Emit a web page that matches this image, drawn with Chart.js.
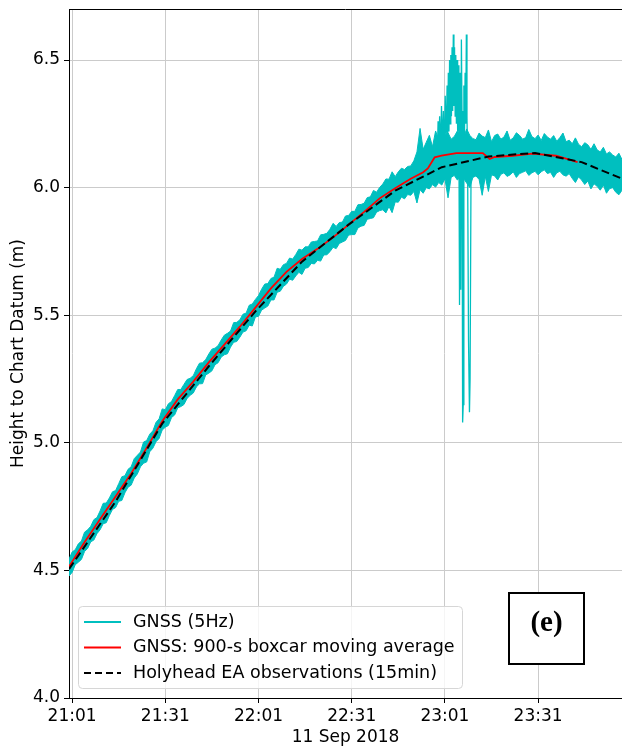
<!DOCTYPE html>
<html>
<head>
<meta charset="utf-8">
<title>Holyhead GNSS tide</title>
<script src="https://cdn.jsdelivr.net/npm/chart.js@4.4.0/dist/chart.umd.min.js"></script>
<style>
  html, body { margin: 0; padding: 0; background: #fff; }
  #wrap { width: 622px; height: 749px; }
</style>
</head>
<body>
<div id="wrap"><canvas id="tide" width="622" height="749"></canvas></div>
<script>
// time axis is minutes after 21:00, 11 Sep 2018
const dayStartHour = 21;

// GNSS 5Hz band, one sample per minute from minute 0 (upper / lower edge, m)
const gnssHigh = [
  4.544, 4.572, 4.581, 4.604, 4.615, 4.650, 4.659, 4.673, 4.699, 4.707,
  4.733, 4.763, 4.764, 4.784, 4.808, 4.813, 4.840, 4.867, 4.871, 4.896,
  4.906, 4.938, 4.951, 4.964, 5.003, 5.009, 5.034, 5.047, 5.080, 5.094,
  5.133, 5.130, 5.153, 5.162, 5.185, 5.209, 5.209, 5.229, 5.248, 5.253,
  5.263, 5.290, 5.312, 5.314, 5.326, 5.348, 5.367, 5.371, 5.381, 5.403,
  5.422, 5.429, 5.438, 5.471, 5.472, 5.482, 5.504, 5.508, 5.539, 5.544,
  5.562, 5.577, 5.602, 5.622, 5.624, 5.644, 5.649, 5.684, 5.680, 5.698,
  5.703, 5.724, 5.720, 5.738, 5.759, 5.755, 5.768, 5.768, 5.787, 5.789,
  5.791, 5.815, 5.817, 5.821, 5.837, 5.860, 5.848, 5.863, 5.865, 5.889,
  5.891, 5.907, 5.907, 5.933, 5.934, 5.939, 5.961, 5.964, 5.989, 5.982,
  6.001, 6.014, 6.034, 6.033, 6.062, 6.043, 6.062, 6.076, 6.071, 6.083,
  6.085, 6.105, 6.140, 6.232, 6.150, 6.178, 6.205, 6.160, 6.222, 6.190,
  6.240, 6.205, 6.215, 6.190, 6.200, 6.222, 6.210, 6.196, 6.230, 6.205,
  6.192, 6.188, 6.214, 6.202, 6.196, 6.226, 6.180, 6.204, 6.210, 6.190,
  6.198, 6.222, 6.186, 6.195, 6.215, 6.205, 6.190, 6.196, 6.228, 6.200,
  6.192, 6.206, 6.185, 6.212, 6.198, 6.190, 6.204, 6.182, 6.196, 6.214,
  6.180, 6.186, 6.172, 6.195, 6.170, 6.160, 6.176, 6.168, 6.150, 6.172,
  6.148, 6.140, 6.158, 6.132, 6.140, 6.128, 6.120, 6.135, 6.110
];
const gnssLow = [
  4.478, 4.492, 4.522, 4.532, 4.543, 4.574, 4.586, 4.612, 4.619, 4.644,
  4.659, 4.683, 4.687, 4.715, 4.739, 4.746, 4.771, 4.774, 4.804, 4.826,
  4.834, 4.862, 4.878, 4.906, 4.920, 4.925, 4.965, 4.979, 5.004, 5.017,
  5.050, 5.061, 5.068, 5.099, 5.109, 5.137, 5.142, 5.150, 5.174, 5.186,
  5.195, 5.219, 5.231, 5.232, 5.266, 5.273, 5.282, 5.306, 5.314, 5.336,
  5.345, 5.349, 5.375, 5.394, 5.397, 5.414, 5.434, 5.439, 5.461, 5.458,
  5.493, 5.496, 5.520, 5.528, 5.536, 5.560, 5.560, 5.590, 5.594, 5.613,
  5.622, 5.641, 5.637, 5.654, 5.668, 5.660, 5.684, 5.687, 5.703, 5.701,
  5.715, 5.712, 5.736, 5.737, 5.749, 5.766, 5.761, 5.781, 5.787, 5.793,
  5.814, 5.816, 5.816, 5.842, 5.849, 5.852, 5.876, 5.879, 5.882, 5.904,
  5.910, 5.913, 5.901, 5.926, 5.902, 5.944, 5.943, 5.963, 5.956, 5.973,
  5.970, 5.985, 5.940, 5.992, 5.978, 6.000, 5.995, 6.012, 6.002, 6.020,
  6.010, 6.035, 5.960, 6.040, 6.048, 6.030, 6.042, 6.036, 6.018, 6.000,
  6.040, 6.046, 6.032, 5.970, 6.044, 5.985, 6.050, 6.046, 6.030, 6.052,
  6.058, 6.044, 6.050, 6.062, 6.040, 6.055, 6.060, 6.066, 6.048, 6.058,
  6.064, 6.050, 6.062, 6.070, 6.055, 6.060, 6.040, 6.058, 6.064, 6.050,
  6.045, 6.055, 6.036, 6.020, 6.042, 6.030, 6.012, 6.026, 5.995, 6.015,
  6.005, 5.990, 6.010, 5.978, 5.996, 6.000, 5.982, 5.972, 5.990
];

// the burst of outliers just after 23:01
const spikeTime = [
  118.6, 118.8, 119.0, 119.3, 119.6, 119.9, 120.2, 120.5, 120.8, 121.1,
  121.4, 121.7, 121.9, 122.1, 122.3, 122.5, 122.7, 122.9, 123.1, 123.3,
  123.5, 123.7, 123.9, 124.1, 124.3, 124.5, 124.7, 124.9, 125.1, 125.3,
  125.5, 125.7, 125.9, 126.1, 126.3, 126.5, 126.7, 126.9, 127.1, 127.3,
  127.5, 127.7, 127.9, 128.1, 128.3, 128.6, 128.9, 129.1, 129.4, 129.7,
  130.0
];
const spikeValue = [
  6.15, 6.26, 6.12, 6.28, 6.14, 6.32, 6.16, 6.30, 6.12, 6.36,
  6.18, 6.40, 6.20, 6.45, 6.22, 6.50, 6.25, 6.52, 6.28, 6.55,
  6.30, 6.60, 6.32, 6.55, 6.28, 6.52, 6.25, 6.50, 6.22, 6.48,
  6.20, 5.54, 6.45, 5.60, 6.58, 6.30, 5.08, 5.15, 6.40, 6.20,
  6.45, 6.25, 6.60, 6.28, 6.10, 5.40, 5.12, 5.25, 6.05, 6.18,
  6.10
];

// 900-s boxcar moving average
const boxcarTime = [
  0, 5, 10, 15, 20, 25, 30, 35, 40, 45, 50, 55, 60, 65, 70, 75, 80, 85, 90, 95,
  100, 105, 110, 114, 115.5, 117.7, 119.9, 124.7, 133.2, 135.4, 137, 142.8, 149.2, 156.8, 163.7
];
const boxcarValue = [
  4.515, 4.61, 4.70, 4.79, 4.88, 4.98, 5.085, 5.17, 5.24, 5.315, 5.385, 5.455, 5.53, 5.605, 5.67, 5.72, 5.76, 5.805, 5.855, 5.905,
  5.958, 5.998, 6.035, 6.06, 6.075, 6.119, 6.125, 6.135, 6.135, 6.112, 6.12, 6.125, 6.133, 6.125, 6.10
];

// Holyhead EA tide gauge, 15 min
const obsTime = [0, 15, 30, 45, 60, 75, 90, 105, 120, 135, 150, 165, 180];
const obsValue = [4.505, 4.77, 5.075, 5.30, 5.515, 5.71, 5.855, 5.988, 6.08, 6.122, 6.136, 6.10, 6.025];

const xTickMinutes = [1, 31, 61, 91, 121, 151];
const yTickValues = [4.0, 4.5, 5.0, 5.5, 6.0, 6.5];

const CYAN = '#00bfbf';
const RED = '#ff0000';
const FONT = 'DejaVu Sans';

Chart.defaults.font.family = FONT;
Chart.defaults.font.size = 17;
Chart.defaults.color = '#000';

function pairs(xs, ys) {
  return ys.map((v, i) => ({ x: xs[i], y: v }));
}
const bandHigh = gnssHigh.map((v, i) => ({ x: i, y: v }));
const bandLow = gnssLow.map((v, i) => ({ x: i, y: v }));

function clock(min) {
  const total = dayStartHour * 60 + min;
  const h = Math.floor(total / 60), m = total % 60;
  return String(h).padStart(2, '0') + ':' + String(m).padStart(2, '0');
}

// top spine, legend box and panel tag
const extras = {
  id: 'extras',
  afterDraw(chart) {
    const ctx = chart.ctx;
    const a = chart.chartArea;
    ctx.save();
    ctx.strokeStyle = '#000';
    ctx.lineWidth = 1;
    ctx.beginPath();
    ctx.moveTo(a.left, a.top + 0.5);
    ctx.lineTo(a.right, a.top + 0.5);
    ctx.stroke();

    // legend
    const lx = 78.5, ly = 606.5, lw = 384, lh = 82, r = 4;
    ctx.beginPath();
    ctx.moveTo(lx + r, ly);
    ctx.lineTo(lx + lw - r, ly);
    ctx.quadraticCurveTo(lx + lw, ly, lx + lw, ly + r);
    ctx.lineTo(lx + lw, ly + lh - r);
    ctx.quadraticCurveTo(lx + lw, ly + lh, lx + lw - r, ly + lh);
    ctx.lineTo(lx + r, ly + lh);
    ctx.quadraticCurveTo(lx, ly + lh, lx, ly + lh - r);
    ctx.lineTo(lx, ly + r);
    ctx.quadraticCurveTo(lx, ly, lx + r, ly);
    ctx.closePath();
    ctx.fillStyle = 'rgba(255,255,255,0.8)';
    ctx.fill();
    ctx.strokeStyle = '#d6d6d6';
    ctx.stroke();

    const rows = [
      { text: 'GNSS (5Hz)', color: CYAN, dash: [] },
      { text: 'GNSS: 900-s boxcar moving average', color: RED, dash: [] },
      { text: 'Holyhead EA observations (15min)', color: '#000', dash: [7, 4] }
    ];
    ctx.font = '17.5px ' + FONT;
    ctx.textBaseline = 'middle';
    ctx.textAlign = 'left';
    rows.forEach((row, i) => {
      const y = 622 + i * 25.5;
      ctx.beginPath();
      ctx.setLineDash(row.dash);
      ctx.strokeStyle = row.color;
      ctx.lineWidth = 2;
      ctx.moveTo(84, y);
      ctx.lineTo(121, y);
      ctx.stroke();
      ctx.setLineDash([]);
      ctx.fillStyle = '#000';
      ctx.fillText(row.text, 133, y);
    });

    // (e) tag
    ctx.fillStyle = '#fff';
    ctx.fillRect(509, 593, 75, 71);
    ctx.strokeStyle = '#000';
    ctx.lineWidth = 2;
    ctx.strokeRect(509, 593, 75, 71);
    ctx.fillStyle = '#000';
    ctx.font = 'bold 29px "Liberation Serif"';
    ctx.textAlign = 'center';
    ctx.fillText('(e)', 546.5, 624);
    ctx.restore();
  }
};

new Chart(document.getElementById('tide'), {
  type: 'line',
  data: {
    datasets: [
      { label: 'GNSS (5Hz)', data: bandHigh, borderColor: CYAN, borderWidth: 1, fill: false, order: 3 },
      { label: 'GNSS (5Hz) low', data: bandLow, borderColor: CYAN, borderWidth: 1, backgroundColor: CYAN, fill: '-1', order: 3 },
      { label: 'GNSS (5Hz) burst', data: pairs(spikeTime, spikeValue), borderColor: CYAN, borderWidth: 1.3, fill: false, order: 3 },
      { label: 'GNSS: 900-s boxcar moving average', data: pairs(boxcarTime, boxcarValue), borderColor: RED, borderWidth: 1.8, fill: false, order: 2 },
      { label: 'Holyhead EA observations (15min)', data: pairs(obsTime, obsValue), borderColor: '#000', borderWidth: 2, borderDash: [8, 4], fill: false, order: 1 }
    ]
  },
  options: {
    responsive: false,
    animation: false,
    devicePixelRatio: 1,
    layout: { padding: { top: 9, right: 0, bottom: 0, left: 0 } },
    elements: { point: { radius: 0 }, line: { tension: 0 } },
    plugins: { legend: { display: false }, tooltip: { enabled: false } },
    scales: {
      x: {
        type: 'linear',
        min: 0,
        max: 178,
        afterBuildTicks: s => { s.ticks = xTickMinutes.map(v => ({ value: v })); },
        afterFit: s => { s.height = 51; s.paddingLeft = 0; s.paddingRight = 0; },
        ticks: { autoSkip: false, maxRotation: 0, padding: 3, callback: v => clock(v), font: { size: 17 } },
        grid: { color: '#cbcbcb', lineWidth: 1, tickColor: '#000', tickLength: 5 },
        border: { color: '#000', width: 1 },
        title: { display: true, text: '11 Sep 2018', font: { size: 17 }, padding: { top: 0, bottom: 1 } }
      },
      y: {
        min: 4.0,
        max: 6.7,
        afterBuildTicks: s => { s.ticks = yTickValues.map(v => ({ value: v })); },
        afterFit: s => { s.width = 69; s.paddingTop = 0; s.paddingBottom = 0; },
        ticks: { padding: 4, callback: v => v.toFixed(1), font: { size: 17 } },
        grid: { color: '#cbcbcb', lineWidth: 1, tickColor: '#000', tickLength: 5 },
        border: { color: '#000', width: 1 },
        title: { display: true, text: 'Height to Chart Datum (m)', font: { size: 17 }, padding: { top: 8, bottom: 0 } }
      }
    }
  },
  plugins: [extras]
});
</script>
</body>
</html>
